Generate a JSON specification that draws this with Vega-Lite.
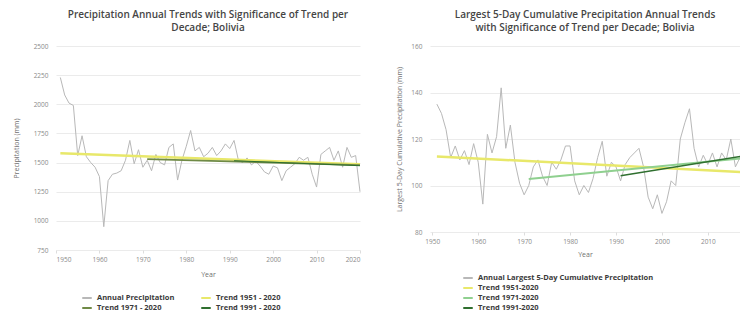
{
  "$schema": "https://vega.github.io/schema/vega-lite/v6.json",
  "background": "white",
  "padding": {"left": 12, "top": 10, "right": 0, "bottom": 0},
  "spacing": 30,
  "config": {
    "font": "Open Sans",
    "view": {"stroke": null},
    "axis": {"labelColor": "#8a8a8a", "labelFontSize": 6.5, "titleColor": "#707070", "titleFontSize": 7, "titleFontWeight": "normal", "gridColor": "#ebebeb", "domain": false, "tickColor": "#dddddd"},
    "title": {"fontSize": 10, "fontWeight": 600, "color": "#454545", "lineHeight": 13, "anchor": "middle", "offset": 10},
    "legend": {"labelFontSize": 7.5, "labelFontWeight": "bold", "labelColor": "#3a3a3a", "symbolType": "stroke", "symbolStrokeWidth": 2, "rowPadding": 0, "columnPadding": 14, "symbolSize": 90, "labelLimit": 400}
  },
  "datasets": {
    "leftAnnual": [
      {"year":1951,"value":2230},{"year":1952,"value":2080},{"year":1953,"value":2010},{"year":1954,"value":1990},{"year":1955,"value":1560},
      {"year":1956,"value":1730},{"year":1957,"value":1550},{"year":1958,"value":1500},{"year":1959,"value":1460},{"year":1960,"value":1380},
      {"year":1961,"value":950},{"year":1962,"value":1345},{"year":1963,"value":1400},{"year":1964,"value":1410},{"year":1965,"value":1430},
      {"year":1966,"value":1520},{"year":1967,"value":1690},{"year":1968,"value":1490},{"year":1969,"value":1610},{"year":1970,"value":1460},
      {"year":1971,"value":1520},{"year":1972,"value":1430},{"year":1973,"value":1570},{"year":1974,"value":1500},{"year":1975,"value":1480},
      {"year":1976,"value":1630},{"year":1977,"value":1660},{"year":1978,"value":1350},{"year":1979,"value":1520},{"year":1980,"value":1640},
      {"year":1981,"value":1775},{"year":1982,"value":1600},{"year":1983,"value":1630},{"year":1984,"value":1550},{"year":1985,"value":1580},
      {"year":1986,"value":1630},{"year":1987,"value":1560},{"year":1988,"value":1600},{"year":1989,"value":1660},{"year":1990,"value":1620},
      {"year":1991,"value":1690},{"year":1992,"value":1520},{"year":1993,"value":1500},{"year":1994,"value":1540},{"year":1995,"value":1480},
      {"year":1996,"value":1510},{"year":1997,"value":1470},{"year":1998,"value":1420},{"year":1999,"value":1400},{"year":2000,"value":1470},
      {"year":2001,"value":1455},{"year":2002,"value":1345},{"year":2003,"value":1430},{"year":2004,"value":1460},{"year":2005,"value":1490},
      {"year":2006,"value":1545},{"year":2007,"value":1520},{"year":2008,"value":1545},{"year":2009,"value":1400},{"year":2010,"value":1290},
      {"year":2011,"value":1570},{"year":2012,"value":1600},{"year":2013,"value":1630},{"year":2014,"value":1520},{"year":2015,"value":1600},
      {"year":2016,"value":1460},{"year":2017,"value":1630},{"year":2018,"value":1545},{"year":2019,"value":1560},{"year":2020,"value":1250}
    ],
    "leftTrend": [
      {"year":1951,"value":1580,"series":"Trend 1951 - 2020"},{"year":2020,"value":1485,"series":"Trend 1951 - 2020"},
      {"year":1971,"value":1530,"series":"Trend 1971 - 2020"},{"year":2020,"value":1478,"series":"Trend 1971 - 2020"},
      {"year":1991,"value":1516,"series":"Trend 1991 - 2020"},{"year":2020,"value":1473,"series":"Trend 1991 - 2020"}
    ],
    "rightAnnual": [
      {"year":1951,"value":135},{"year":1952,"value":131},{"year":1953,"value":124},{"year":1954,"value":112},{"year":1955,"value":117},
      {"year":1956,"value":111},{"year":1957,"value":115},{"year":1958,"value":109},{"year":1959,"value":118},{"year":1960,"value":110},
      {"year":1961,"value":92},{"year":1962,"value":122},{"year":1963,"value":114},{"year":1964,"value":121},{"year":1965,"value":142},
      {"year":1966,"value":116},{"year":1967,"value":126},{"year":1968,"value":110},{"year":1969,"value":101},{"year":1970,"value":96},
      {"year":1971,"value":100},{"year":1972,"value":108},{"year":1973,"value":111},{"year":1974,"value":104},{"year":1975,"value":100},
      {"year":1976,"value":110},{"year":1977,"value":107},{"year":1978,"value":111},{"year":1979,"value":117},{"year":1980,"value":117},
      {"year":1981,"value":102},{"year":1982,"value":96},{"year":1983,"value":100},{"year":1984,"value":97},{"year":1985,"value":103},
      {"year":1986,"value":112},{"year":1987,"value":119},{"year":1988,"value":104},{"year":1989,"value":110},{"year":1990,"value":108},
      {"year":1991,"value":102},{"year":1992,"value":109},{"year":1993,"value":112},{"year":1994,"value":114},{"year":1995,"value":116},
      {"year":1996,"value":108},{"year":1997,"value":95},{"year":1998,"value":90},{"year":1999,"value":96},{"year":2000,"value":88},
      {"year":2001,"value":93},{"year":2002,"value":102},{"year":2003,"value":100},{"year":2004,"value":120},{"year":2005,"value":127},
      {"year":2006,"value":133},{"year":2007,"value":116},{"year":2008,"value":108},{"year":2009,"value":113},{"year":2010,"value":109},
      {"year":2011,"value":114},{"year":2012,"value":108},{"year":2013,"value":114},{"year":2014,"value":111},{"year":2015,"value":120},
      {"year":2016,"value":108},{"year":2017,"value":112},{"year":2018,"value":106},{"year":2019,"value":117},{"year":2020,"value":110}
    ],
    "rightTrend": [
      {"year":1951,"value":112.5,"series":"Trend 1951-2020"},{"year":2020,"value":105.5,"series":"Trend 1951-2020"},
      {"year":1971,"value":102.8,"series":"Trend 1971-2020"},{"year":2020,"value":112.2,"series":"Trend 1971-2020"},
      {"year":1991,"value":104.2,"series":"Trend 1991-2020"},{"year":2020,"value":113.4,"series":"Trend 1991-2020"}
    ]
  },
  "resolve": {"scale": {"color": "independent", "strokeWidth": "independent"}, "legend": {"color": "independent"}},
  "hconcat": [
    {
      "title": {"text": ["Precipitation Annual Trends with Significance of Trend per", "Decade; Bolivia"]},
      "width": 304,
      "height": 204,
      "encoding": {
        "x": {"field": "year", "type": "quantitative", "scale": {"domain": [1950, 2020]}, "axis": {"title": "Year", "values": [1950,1960,1970,1980,1990,2000,2010,2020], "format": "d", "grid": false, "tickSize": 3, "labelPadding": 3, "titlePadding": 8}},
        "y": {"field": "value", "type": "quantitative", "scale": {"domain": [750, 2500]}, "axis": {"title": "Precipitation (mm)", "values": [750,1000,1250,1500,1750,2000,2250,2500], "format": "d", "ticks": false, "labelPadding": 8, "titlePadding": 14}},
        "color": {"field": "series", "type": "nominal",
          "scale": {"domain": ["Annual Precipitation", "Trend 1971 - 2020", "Trend 1951 - 2020", "Trend 1991 - 2020"], "range": ["#b8b8b8", "#6f8a46", "#e8e86a", "#2f6f2f"]},
          "legend": {"title": null, "orient": "none", "legendX": 25, "legendY": 246, "columns": 2, "columnPadding": 22}}
      },
      "layer": [
        {"data": {"name": "leftAnnual"}, "mark": {"type": "line", "strokeWidth": 1},
         "encoding": {"color": {"datum": "Annual Precipitation", "type": "nominal"}}},
        {"data": {"name": "leftTrend"}, "mark": {"type": "line"},
         "encoding": {"strokeWidth": {"field": "series", "type": "nominal", "scale": {"domain": ["Trend 1951 - 2020", "Trend 1971 - 2020", "Trend 1991 - 2020"], "range": [2.5, 1, 2.5]}, "legend": null}}}
      ]
    },
    {
      "title": {"text": ["Largest 5-Day Cumulative Precipitation Annual Trends", "with Significance of Trend per Decade; Bolivia"]},
      "width": 310,
      "height": 186,
      "encoding": {
        "x": {"field": "year", "type": "quantitative", "scale": {"domain": [1949.5, 2017], "nice": false}, "axis": {"title": "Year", "values": [1950,1960,1970,1980,1990,2000,2010], "format": "d", "grid": false, "tickSize": 3, "labelPadding": 3, "titlePadding": 6}},
        "y": {"field": "value", "type": "quantitative", "scale": {"domain": [80, 160]}, "axis": {"title": "Largest 5-Day Cumulative Precipitation (mm)", "values": [80,100,120,140,160], "format": "d", "ticks": false, "labelPadding": 8, "titlePadding": 8}},
        "color": {"field": "series", "type": "nominal",
          "scale": {"domain": ["Annual Largest 5-Day Cumulative Precipitation", "Trend 1951-2020", "Trend 1971-2020", "Trend 1991-2020"], "range": ["#b8b8b8", "#e8e86a", "#8fd08f", "#2f6f2f"]},
          "legend": {"title": null, "orient": "none", "legendX": 32, "legendY": 226, "columns": 1}}
      },
      "layer": [
        {"data": {"name": "rightAnnual"}, "mark": {"type": "line", "strokeWidth": 1, "clip": true},
         "encoding": {"color": {"datum": "Annual Largest 5-Day Cumulative Precipitation", "type": "nominal"}}},
        {"data": {"name": "rightTrend"}, "mark": {"type": "line", "clip": true},
         "encoding": {"strokeWidth": {"field": "series", "type": "nominal", "scale": {"domain": ["Trend 1951-2020", "Trend 1971-2020", "Trend 1991-2020"], "range": [2.5, 1.5, 2.5]}, "legend": null}}}
      ]
    }
  ]
}
